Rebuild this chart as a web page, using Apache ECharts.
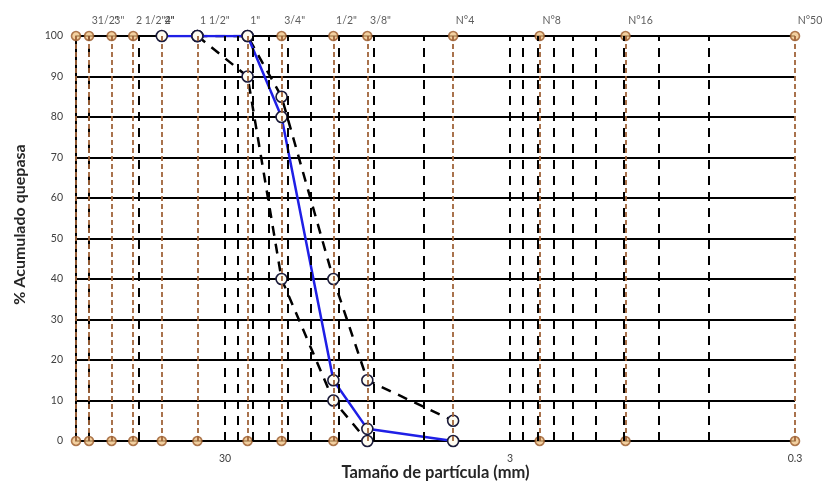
<!DOCTYPE html>
<html><head><meta charset="utf-8">
<script src="https://cdn.jsdelivr.net/npm/echarts@6/dist/echarts.min.js"></script>
<style>html,body{margin:0;padding:0;background:#fff}#c{width:825px;height:481px}</style>
</head><body><div id="c"></div>
<script>
// Sieve openings (mm) and names
const sieveSizes = [100, 90, 75, 63, 50, 37.5, 25, 19, 12.5, 9.5, 4.75, 2.36, 1.18, 0.3];
const sieveLabels = ['4"', '31/2"', '3"', '2 1/2"', '2"', '1 1/2"', '1"', '3/4"', '1/2"', '3/8"', 'N°4', 'N°8', 'N°16', 'N°50'];
// log-scale minor gridline values
const gridValues = [90, 60, 30, 27, 24, 21, 18, 15, 12, 9, 6, 3, 2.7, 2.4, 2.1, 1.8, 1.5, 1.2, 0.9, 0.6];
const xTickLabels = [30, 3, 0.3];
// sample curve
const sampleSizes = [50, 37.5, 25, 19, 12.5, 9.5, 4.75];
const samplePass = [100, 100, 100, 80, 15, 3, 0];
// upper limit
const upperSizes = [37.5, 25, 19, 12.5, 9.5, 4.75];
const upperPass = [100, 100, 85, 40, 15, 5];
// lower limit
const lowerSizes = [37.5, 25, 19, 12.5, 9.5];
const lowerPass = [100, 90, 40, 10, 0];

const FONT = 'Lato, "Open Sans", sans-serif';
const brown = '#a0643a';
const zip = (a, b) => a.map((v, i) => [v, b[i]]);

const chart = echarts.init(document.getElementById('c'), null, {renderer: 'canvas'});
const whiteMarker = {color: '#fffdf2', borderColor: '#1a1a3a', borderWidth: 1.6};

const option = {
  animation: false,
  backgroundColor: '#ffffff',
  grid: {left: 76, right: 30, top: 36, bottom: 40, outerBoundsMode: 'none', containLabel: false},
  xAxis: {
    type: 'log', logBase: 10, min: 0.3, max: 100, inverse: true,
    name: 'Tamaño de partícula (mm)', nameLocation: 'middle', nameGap: 23, nameMoveOverlap: false,
    nameTextStyle: {fontFamily: FONT, fontWeight: 'bold', fontSize: 16.5, color: '#262626'},
    axisLine: {show: true, lineStyle: {color: '#000', width: 2}},
    axisTick: {show: false},
    axisLabel: {customValues: xTickLabels, fontFamily: FONT, fontSize: 10.5, color: '#404040', margin: 12,
      formatter: v => String(+(+v).toPrecision(6))},
    splitLine: {show: false}
  },
  yAxis: {
    type: 'value', min: 0, max: 100, interval: 10,
    name: '% Acumulado quepasa', nameLocation: 'middle', nameGap: 48, nameMoveOverlap: false,
    nameTextStyle: {fontFamily: FONT, fontWeight: 'bold', fontSize: 16, color: '#262626', padding: [0, 0, 0, 28]},
    axisLine: {show: true, lineStyle: {color: '#000', width: 2}},
    axisTick: {show: false},
    axisLabel: {fontFamily: FONT, fontSize: 10.5, color: '#404040', margin: 13},
    splitLine: {show: true, lineStyle: {color: '#000', width: 2}}
  },
  series: [
    {
      name: 'grid', type: 'line', data: [], silent: true, z: 1,
      markLine: {
        silent: true, symbol: ['none', 'none'], label: {show: false}, animation: false,
        lineStyle: {color: '#000', width: 2, type: [9, 7]},
        data: gridValues.map(v => ({xAxis: v}))
      }
    },
    {
      name: 'sieves', type: 'scatter', z: 2,
      symbol: 'circle', symbolSize: 9,
      itemStyle: {color: '#f0c488', borderColor: '#9a5a2c', borderWidth: 1.6},
      data: sieveSizes.flatMap((s, i) => [
        {value: [s, 0]},
        {value: [s, 100], label: {show: true, formatter: sieveLabels[i],
          offset: i === 0 ? [86, 0] : [0, 0]}}
      ]),
      label: {show: false, position: [8, -10], align: 'left', verticalAlign: 'middle',
        fontFamily: FONT, fontSize: 10.5, color: '#333333'},
      markLine: {
        silent: true, symbol: ['none', 'none'], label: {show: false}, animation: false,
        lineStyle: {color: brown, width: 1.8, type: [5, 3]},
        data: sieveSizes.map(v => ({xAxis: v}))
      }
    },
    {
      name: 'Límite inferior', type: 'line', z: 3, data: zip(lowerSizes, lowerPass),
      symbol: 'circle', symbolSize: 11, showAllSymbol: true,
      lineStyle: {color: '#000', width: 2.5, type: [10, 8]},
      itemStyle: whiteMarker
    },
    {
      name: 'Límite superior', type: 'line', z: 3, data: zip(upperSizes, upperPass),
      symbol: 'circle', symbolSize: 11, showAllSymbol: true,
      lineStyle: {color: '#000', width: 2.5, type: [10, 8]},
      itemStyle: whiteMarker
    },
    {
      name: 'Muestra', type: 'line', z: 4, data: zip(sampleSizes, samplePass),
      symbol: 'circle', symbolSize: 11, showAllSymbol: true,
      lineStyle: {color: '#1f1fe6', width: 2.5},
      itemStyle: whiteMarker
    }
  ]
};
chart.setOption(option);
</script>
</body></html>
